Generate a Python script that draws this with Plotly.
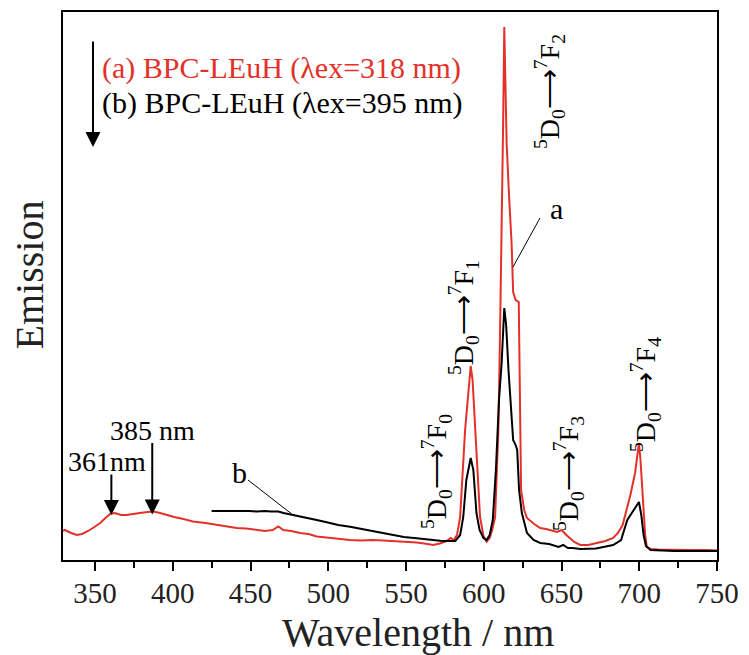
import plotly.graph_objects as go

# ---------------- data ----------------
# (a) BPC-LEuH, lambda_ex = 318 nm  (red)
wl_a = [329.4, 330.5, 334.6, 338.2, 341.6, 345.6, 349.6, 353.3, 356.7, 359.7, 362.7, 366.7, 370.3,
        373.8, 378.8, 383.8, 387.5, 391.8, 395.9, 400.9, 406.9, 413, 421, 428, 434.6, 441.1, 447.1,
        453.9, 459.2, 464.2, 467.9, 471.1, 476.2, 481.9, 487.3, 492.6, 498.3, 506.4, 514, 521.5,
        528.5, 535.4, 541.6, 548.6, 556.8, 561.6, 567.6, 571.7, 576.1, 578.7, 580.7, 582.8, 584.8,
        588, 590.3, 591.6, 592.8, 594.4, 596.3, 597.6, 599.8, 601.8, 603.8, 605.4, 607.3, 609.4,
        610.5, 611.5, 612.4, 613.2, 613.9, 614.7, 616.4, 617.9, 618.9, 620.5, 622.5, 623.2, 624,
        626, 627.8, 632, 636.3, 640.1, 642.7, 647.1, 650.1, 653.1, 658.2, 662, 667.2, 672.8, 678.2,
        683.2, 686.3, 689.3, 692.2, 694.3, 697.3, 698.8, 699.8, 700.8, 702.3, 703.8, 704.9, 707.3,
        712.3, 722.4, 732.5, 742.5, 750]
em_a = [310, 320, 290, 270, 280, 310, 350, 390, 440, 480, 490, 470, 470,
        480, 490, 500, 505, 490, 470, 450, 430, 405, 390, 370, 355, 340, 335,
        320, 310, 320, 355, 320, 310, 290, 280, 255, 245, 230, 220, 215,
        220, 215, 210, 200, 195, 185, 170, 185, 210, 240, 220, 270, 450,
        1320, 1770, 1960, 1820, 1320, 720, 450, 260, 203, 240, 320, 450, 1320,
        2320, 3220, 4320, 5350, 4820, 4190, 3620, 3190, 2700, 2620, 2600, 1420, 720,
        520, 440, 385, 340, 330, 320, 300, 320, 270, 200, 170, 170, 190, 210,
        240, 290, 370, 550, 670, 890, 1100, 1190, 1020, 620, 270, 150, 130,
        125, 120, 120, 120, 115]

# (b) BPC-LEuH, lambda_ex = 395 nm  (black)
wl_b = [425, 431, 437, 443.1, 449.1, 453.9, 459.2, 463.2, 467.9, 471.2, 476.2, 481.9, 487.3, 492.6,
        498.3, 506.4, 514, 521.5, 528.5, 535.4, 541.6, 548.6, 556.8, 563.6, 571.9, 576.7, 581.7,
        584.8, 586.8, 588.8, 591.6, 593.3, 595.3, 597.3, 599.8, 601.8, 603.8, 605.8, 607.8, 609.8,
        611.5, 613.2, 614.4, 615.9, 617.4, 618.9, 620.5, 621.5, 622.7, 624.5, 627.8, 632, 636.3,
        642.1, 648.1, 651.1, 654.1, 657.1, 662.2, 672.2, 683.2, 688.3, 692.3, 695.3, 698.3, 699.8,
        701.3, 702.8, 704.3, 707.3, 722.4, 750]
em_b = [510, 510, 515, 510, 510, 505, 510, 505, 505, 490, 475, 455, 440, 420,
        400, 370, 353, 330, 310, 287, 270, 250, 237, 225, 213, 210, 210,
        270, 450, 820, 1040, 920, 490, 320, 240, 220, 270, 420, 920, 1620,
        1990, 2540, 2370, 1920, 1520, 1220, 1170, 1120, 720, 490, 290, 220, 190,
        180, 150, 170, 140, 140, 130, 135, 170, 220, 420, 490, 570, 600,
        470, 270, 160, 120, 110, 110]

tick_vals = [350, 400, 450, 500, 550, 600, 650, 700, 750]
tick_text = ["350", "400", "450", "500", "550", "600", "650", "700", "750"]

legend_a = "(a) BPC-LEuH (λex=318 nm)"
legend_b = "(b) BPC-LEuH (λex=395 nm)"
x_title = "Wavelength / nm"
y_title = "Emission"

transitions = [  # (label, wavelength, emission) centres of the rotated labels
    ("<sup>5</sup>D<sub>0</sub>⟶<sup>7</sup>F<sub>0</sub>", 569.3, 900),
    ("<sup>5</sup>D<sub>0</sub>⟶<sup>7</sup>F<sub>1</sub>", 586.7, 2440),
    ("<sup>5</sup>D<sub>0</sub>⟶<sup>7</sup>F<sub>2</sub>", 642.0, 4700),
    ("<sup>5</sup>D<sub>0</sub>⟶<sup>7</sup>F<sub>3</sub>", 654.2, 880),
    ("<sup>5</sup>D<sub>0</sub>⟶<sup>7</sup>F<sub>4</sub>", 703.7, 1670),
]

RED = "#e3312a"
FONT = "Liberation Serif"

# the page adds an 8 px body margin; the figure is sized/offset to compensate
OFF = 8
fig_w, fig_h = 749 - OFF, 655 - OFF
AX_L, AX_R, AX_T, AX_B = 63, 717, 12, 560          # plot box in window pixels
L, T = AX_L - OFF, AX_T - OFF
R, B = fig_w - (AX_R - OFF), fig_h - (AX_B - OFF)
pw, ph = AX_R - AX_L, AX_B - AX_T


def px(xp):
    return (xp - AX_L) / pw


def py(yp):
    return 1 - (yp - AX_T) / ph


fig = go.Figure()
fig.add_trace(go.Scatter(x=wl_a, y=em_a, mode="lines", line=dict(color=RED, width=2),
                         showlegend=False))
fig.add_trace(go.Scatter(x=wl_b, y=em_b, mode="lines", line=dict(color="black", width=2),
                         showlegend=False))

ann = []
for txt, xx, yy in transitions:
    ann.append(dict(x=xx, y=yy, xref="x", yref="y", text=txt, textangle=-90, showarrow=False,
                    font=dict(family=FONT, size=28, color="black")))

ann.append(dict(x=px(100), y=py(68), xref="paper", yref="paper", text=legend_a, showarrow=False,
                xanchor="left", yanchor="middle", font=dict(family=FONT, size=30, color=RED)))
ann.append(dict(x=px(100), y=py(103), xref="paper", yref="paper", text=legend_b, showarrow=False,
                xanchor="left", yanchor="middle", font=dict(family=FONT, size=30, color="black")))
# vertical arrow to the left of the legend
ann.append(dict(x=px(93), y=py(147), xref="paper", yref="paper", axref="pixel", ayref="pixel",
                ax=0, ay=-107, text="", showarrow=True, arrowhead=2,
                arrowsize=1.5, arrowwidth=2, arrowcolor="black"))

# peak markers 361 nm and 385 nm
ann.append(dict(x=360.5, y=470, xref="x", yref="y", text="", showarrow=True, ax=0, ay=-42,
                arrowhead=2, arrowsize=1.5, arrowwidth=2, arrowcolor="black"))
ann.append(dict(x=386.8, y=475, xref="x", yref="y", text="", showarrow=True, ax=0, ay=-73,
                arrowhead=2, arrowsize=1.5, arrowwidth=2, arrowcolor="black"))
ann.append(dict(x=357.7, y=1010, xref="x", yref="y", text="361nm", showarrow=False,
                font=dict(family=FONT, size=28, color="black")))
ann.append(dict(x=386.7, y=1320, xref="x", yref="y", text="385 nm", showarrow=False,
                font=dict(family=FONT, size=28, color="black")))

# curve labels a and b with leader lines
ann.append(dict(x=646.5, y=3540, xref="x", yref="y", text="a", showarrow=False,
                font=dict(family=FONT, size=30, color="black")))
ann.append(dict(x=442.6, y=900, xref="x", yref="y", text="b", showarrow=False,
                font=dict(family=FONT, size=30, color="black")))

# axis titles
ann.append(dict(x=px(28.5), y=py(275), xref="paper", yref="paper", text=y_title,
                xanchor="center", yanchor="middle",
                textangle=-90, showarrow=False, font=dict(family=FONT, size=40, color="#222")))
ann.append(dict(x=px(418), y=py(632), xref="paper", yref="paper", text=x_title,
                xanchor="center", yanchor="middle",
                showarrow=False, font=dict(family=FONT, size=40, color="#222")))

shapes = [
    dict(type="line", xref="paper", yref="paper", x0=px(540), y0=py(218), x1=px(513), y1=py(267),
         line=dict(color="black", width=1)),
    dict(type="line", xref="paper", yref="paper", x0=px(248), y0=py(480), x1=px(293), y1=py(515),
         line=dict(color="black", width=1)),
]

fig.update_layout(
    width=fig_w, height=fig_h,
    margin=dict(l=L, r=R, t=T, b=B, autoexpand=False),
    paper_bgcolor="white", plot_bgcolor="white",
    annotations=ann, shapes=shapes,
    font=dict(family=FONT, color="black"),
)
fig.update_xaxes(range=[329.4, 750], tickvals=tick_vals, ticktext=tick_text,
                 ticks="outside", ticklen=9, tickwidth=1.5, tickcolor="black",
                 minor=dict(dtick=25, tick0=325, ticks="outside", ticklen=6, tickwidth=1.5,
                            tickcolor="black"),
                 showline=True, linewidth=2, linecolor="black", mirror=True,
                 showgrid=False, zeroline=False, automargin=False,
                 ticklabelstandoff=-3,
                 tickfont=dict(family=FONT, size=29, color="#222"))
fig.update_yaxes(range=[20, 5500], showticklabels=False, ticks="",
                 showline=True, linewidth=2, linecolor="black", mirror=True,
                 showgrid=False, zeroline=False, automargin=False)

fig.write_html("out.html")
